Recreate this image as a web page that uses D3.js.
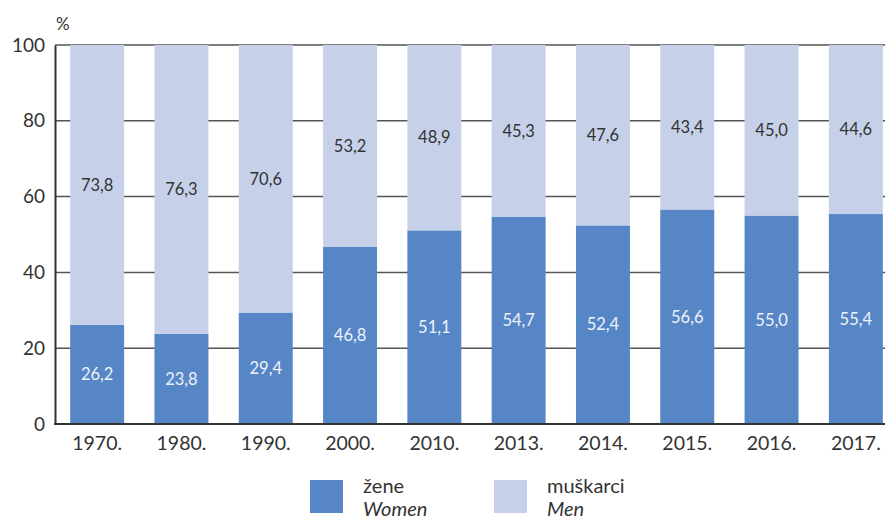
<!DOCTYPE html>
<html>
<head>
<meta charset="utf-8">
<script src="https://cdn.jsdelivr.net/npm/d3@7"></script>
<style>
body { margin: 0; background: #fff; }
text { font-family: Lato, "Open Sans", sans-serif; }
</style>
</head>
<body>
<div id="chart"></div>
<script>
var years = ["1970.", "1980.", "1990.", "2000.", "2010.", "2013.", "2014.", "2015.", "2016.", "2017."];
var women = [26.2, 23.8, 29.4, 46.8, 51.1, 54.7, 52.4, 56.6, 55.0, 55.4];
var men = [73.8, 76.3, 70.6, 53.2, 48.9, 45.3, 47.6, 43.4, 45.0, 44.6];
var yTicks = [0, 20, 40, 60, 80, 100];

var width = 885, height = 519;
var plotLeft = 55, plotTop = 45, plotBottom = 424;

var svg = d3.select("#chart").append("svg").attr("width", width).attr("height", height);

var x = d3.scaleBand().domain(years).range([plotLeft, 898]).paddingInner(0.36).paddingOuter(0.18);
var y = d3.scaleLinear().domain([0, 100]).range([plotBottom, plotTop]);

// gridlines
svg.append("g").selectAll("line").data(yTicks).enter().append("line")
    .attr("x1", plotLeft).attr("x2", width)
    .attr("y1", function(d) { return y(d); }).attr("y2", function(d) { return y(d); })
    .attr("stroke", "#555").attr("stroke-width", 1.5);

// bars
var fmt = function(v) { return v.toFixed(1).replace(".", ","); };
svg.append("g").selectAll("rect").data(years).enter().append("rect")
    .attr("x", function(d) { return x(d); })
    .attr("width", x.bandwidth())
    .attr("y", function(d, i) { return y(women[i]); })
    .attr("height", function(d, i) { return y(0) - y(women[i]); })
    .attr("fill", "#5686c6");
svg.append("g").selectAll("rect").data(years).enter().append("rect")
    .attr("x", function(d) { return x(d); })
    .attr("width", x.bandwidth())
    .attr("y", function(d, i) { return y(Math.min(100, women[i] + men[i])); })
    .attr("height", function(d, i) { return y(women[i]) - y(Math.min(100, women[i] + men[i])); })
    .attr("fill", "#c6d1e9");

// value labels
svg.append("g").selectAll("text").data(years).enter().append("text")
    .attr("x", function(d) { return x(d) + x.bandwidth() / 2; })
    .attr("y", function(d, i) { return y(women[i] / 2); })
    .attr("dy", "0.35em").attr("text-anchor", "middle")
    .attr("font-size", 16.5).attr("fill", "#eef2fa")
    .text(function(d, i) { return fmt(women[i]); });
svg.append("g").selectAll("text").data(years).enter().append("text")
    .attr("x", function(d) { return x(d) + x.bandwidth() / 2; })
    .attr("y", function(d, i) { return y(women[i] + men[i] / 2); })
    .attr("dy", "0.35em").attr("text-anchor", "middle")
    .attr("font-size", 16.5).attr("fill", "#333")
    .text(function(d, i) { return fmt(men[i]); });

// axes
var yAxis = svg.append("g").attr("transform", "translate(" + plotLeft + ",0)")
    .call(d3.axisLeft(y).tickValues(yTicks).tickSize(0).tickPadding(10));
yAxis.select(".domain").attr("stroke", "#333").attr("stroke-width", 2);
yAxis.selectAll("text").attr("font-size", 19).attr("fill", "#333").style("font-family", "Lato, sans-serif");

var xAxis = svg.append("g").attr("transform", "translate(0," + plotBottom + ")")
    .call(d3.axisBottom(x).tickSize(0).tickPadding(12));
xAxis.select(".domain").remove();
svg.append("line").attr("x1", plotLeft - 1).attr("x2", width).attr("y1", plotBottom).attr("y2", plotBottom)
    .attr("stroke", "#333").attr("stroke-width", 2);
xAxis.selectAll("text").attr("font-size", 19.5).attr("fill", "#333").style("font-family", "Lato, sans-serif");

svg.append("text").attr("x", 56).attr("y", 30).attr("font-size", 17).attr("fill", "#333").text("%");

// legend
var legend = [
    {color: "#5686c6", a: "žene", b: "Women", x: 310},
    {color: "#c6d1e9", a: "muškarci", b: "Men", x: 494}
];
var lg = svg.append("g").selectAll("g").data(legend).enter().append("g")
    .attr("transform", function(d) { return "translate(" + d.x + ",480)"; });
lg.append("rect").attr("width", 33).attr("height", 33).attr("fill", function(d) { return d.color; });
lg.append("text").attr("x", 53).attr("y", 13).attr("font-size", 20).attr("fill", "#333")
    .text(function(d) { return d.a; });
lg.append("text").attr("x", 53).attr("y", 36).attr("font-size", 20).attr("fill", "#333")
    .attr("font-style", "italic").text(function(d) { return d.b; });
</script>
</body>
</html>
